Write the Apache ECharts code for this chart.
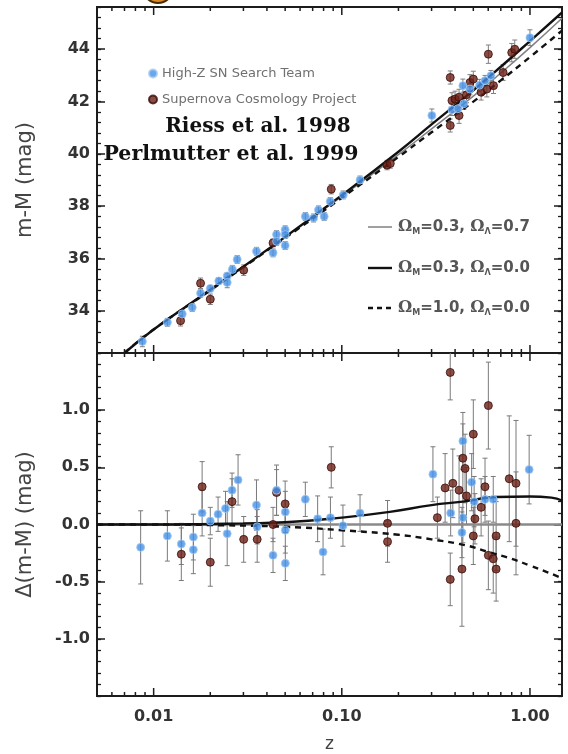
<!DOCTYPE html>
<html><head><meta charset="utf-8">
<script src="https://cdn.jsdelivr.net/npm/echarts@6/dist/echarts.min.js"></script>
<style>html,body{margin:0;padding:0;background:#fff;}#c{width:568px;height:754px;}</style>
</head><body><div id="c"></div>
<script>
// ---------- data ----------
// Top panel: distance modulus m-M vs z
const hzTopZ   = [0.00871,0.01183,0.01419,0.01604,0.01776,0.0200,0.0222,0.0246,0.0246,0.0262,0.0278,0.0352,0.0431,0.0450,0.0450,0.0500,0.0500,0.0500,0.0640,0.0708,0.0752,0.0806,0.0868,0.1018,0.125,0.301,0.385,0.414,0.445,0.440,0.480,0.540,0.577,0.620,1.000];
const hzTopMu  = [32.84,33.57,33.89,34.14,34.68,34.86,35.15,35.34,35.09,35.59,35.97,36.28,36.22,36.92,36.66,37.10,36.92,36.50,37.61,37.55,37.86,37.61,38.18,38.43,39.00,41.46,41.68,41.72,41.91,42.60,42.47,42.62,42.79,42.98,44.43];
const hzTopErr = [0.20,0.15,0.15,0.15,0.15,0.12,0.12,0.12,0.20,0.15,0.15,0.15,0.15,0.15,0.15,0.15,0.15,0.15,0.15,0.15,0.15,0.15,0.15,0.15,0.15,0.25,0.22,0.22,0.22,0.25,0.22,0.22,0.20,0.20,0.30];

const scpTopZ   = [0.0139,0.01776,0.0200,0.0301,0.0431,0.0879,0.174,0.181,0.377,0.377,0.385,0.400,0.420,0.420,0.460,0.480,0.500,0.550,0.590,0.640,0.601,0.800,0.830,0.720];
const scpTopMu  = [33.63,35.06,34.45,35.56,36.60,38.65,39.57,39.63,42.91,41.08,42.03,42.09,42.16,41.46,42.25,42.72,42.85,42.35,42.47,42.60,43.80,43.86,43.99,43.10];
const scpTopErr = [0.20,0.20,0.20,0.20,0.15,0.18,0.18,0.18,0.25,0.25,0.30,0.30,0.30,0.30,0.30,0.30,0.30,0.30,0.30,0.30,0.35,0.35,0.35,0.30];

// model curves in the top panel
const modelZ      = [0.0070,0.01,0.02,0.05,0.1,0.2,0.3,0.5,0.7,1.0,1.48];
const modelRefMu  = [32.40,33.30,34.80,36.81,38.37,39.97,40.95,42.20,43.08,44.05,45.17];
const modelThkMu  = [32.40,33.30,34.81,36.83,38.42,40.08,41.12,42.42,43.32,44.30,45.39];
const modelDshMu  = [32.40,33.30,34.79,36.79,38.32,39.88,40.82,41.99,42.80,43.69,44.70];

// Bottom panel: residuals Δ(m-M)
const hzResZ   = [0.00853,0.01183,0.01403,0.01626,0.01626,0.0181,0.0200,0.0220,0.0241,0.0246,0.0261,0.0281,0.0352,0.0355,0.0431,0.0450,0.0501,0.0501,0.0501,0.0640,0.0744,0.0795,0.0870,0.1014,0.125,0.305,0.379,0.440,0.440,0.435,0.490,0.505,0.577,0.638,0.990];
const hzResD   = [-0.20,-0.10,-0.17,-0.11,-0.22,0.10,0.03,0.09,0.14,-0.08,0.30,0.39,0.17,-0.02,-0.27,0.30,0.11,-0.05,-0.34,0.22,0.05,-0.24,0.06,-0.01,0.10,0.44,0.10,0.73,0.06,-0.07,0.37,0.20,0.22,0.22,0.48];
const hzResErr = [0.32,0.22,0.18,0.20,0.21,0.20,0.12,0.15,0.15,0.28,0.15,0.22,0.22,0.15,0.15,0.22,0.18,0.20,0.15,0.15,0.20,0.20,0.18,0.18,0.16,0.24,0.20,0.25,0.22,0.22,0.25,0.22,0.20,0.20,0.30];

const scpResZ   = [0.01403,0.0181,0.0200,0.0261,0.0301,0.0355,0.0431,0.0450,0.0500,0.0879,0.175,0.175,0.322,0.377,0.377,0.354,0.389,0.420,0.440,0.452,0.435,0.460,0.500,0.510,0.500,0.550,0.601,0.577,0.601,0.638,0.661,0.661,0.776,0.843,0.843];
const scpResD   = [-0.26,0.33,-0.33,0.20,-0.13,-0.13,0.00,0.28,0.18,0.50,0.01,-0.15,0.06,1.33,-0.48,0.32,0.36,0.30,0.58,0.49,-0.39,0.25,0.79,0.05,-0.10,0.15,1.04,0.33,-0.27,-0.30,-0.39,-0.10,0.40,0.36,0.01];
const scpResErr = [0.23,0.22,0.21,0.20,0.20,0.20,0.15,0.20,0.20,0.18,0.20,0.18,0.18,0.24,0.23,0.30,0.30,0.30,0.30,0.30,0.50,0.25,0.30,0.22,0.25,0.25,0.38,0.25,0.30,0.30,0.28,0.30,0.55,0.55,0.45];

// model curves in the bottom panel
const resRefZ   = [0.005,1.48];
const resRefD   = [0,0];
const resThkZ   = [0.005,0.01,0.02,0.03,0.05,0.1,0.18,0.3,0.44,0.66,1.0,1.3,1.48];
const resThkD   = [0,0,0.005,0.01,0.02,0.06,0.11,0.17,0.20,0.24,0.245,0.235,0.21];
const resDshZ   = [0.005,0.01,0.02,0.05,0.1,0.2,0.3,0.45,0.6,0.8,1.0,1.25,1.48];
const resDshD   = [0,0,-0.005,-0.02,-0.05,-0.09,-0.13,-0.18,-0.24,-0.30,-0.36,-0.42,-0.47];

// axis ticks
const xMajorTicks = [0.01,0.1,1];
const xMinorTicks = [0.006,0.007,0.008,0.009,0.02,0.03,0.04,0.05,0.06,0.07,0.08,0.09,0.2,0.3,0.4,0.5,0.6,0.7,0.8,0.9];

const nameHZ  = 'High-Z SN Search Team';
const nameSCP = 'Supernova Cosmology Project';
const modelLabels = [
  '{o|Ω}{s|M}{t|=0.3, }{o|Ω}{s|Λ}{t|=0.7}',
  '{o|Ω}{s|M}{t|=0.3, }{o|Ω}{s|Λ}{t|=0.0}',
  '{o|Ω}{s|M}{t|=1.0, }{o|Ω}{s|Λ}{t|=0.0}'
];

// ---------- layout ----------
const X_MIN = 0.005, X_MAX = 1.48;
const TOP_MIN = 32.4, TOP_MAX = 45.6;
const BOT_MIN = -1.5, BOT_MAX = 1.5;
const INK = '#1c1c1c';
const BLUE = '#4390e6', RED = '#6b2017';
const REF_STYLE = { color: '#808080', width: 1.5 };
const THK_STYLE = { color: '#111', width: 2.4 };
const DSH_STYLE = { color: '#111', width: 2.4, type: [6, 5] };

const zip = (a, b, c) => a.map((v, i) => c ? [v, b[i], c[i]] : [v, b[i]]);

function errSeries(xi, yi, data, color) {
  return {
    type: 'custom', xAxisIndex: xi, yAxisIndex: yi, silent: true, z: 2, clip: true,
    encode: { x: 0, y: 1 },
    data: data,
    renderItem: function (params, api) {
      const x = api.value(0), y = api.value(1), e = api.value(2);
      const hi = api.coord([x, y + e]), lo = api.coord([x, y - e]);
      const w = 2.5;
      const st = { stroke: color, lineWidth: 1 };
      return { type: 'group', children: [
        { type: 'line', shape: { x1: hi[0], y1: hi[1], x2: lo[0], y2: lo[1] }, style: st },
        { type: 'line', shape: { x1: hi[0] - w, y1: hi[1], x2: hi[0] + w, y2: hi[1] }, style: st },
        { type: 'line', shape: { x1: lo[0] - w, y1: lo[1], x2: lo[0] + w, y2: lo[1] }, style: st }
      ]};
    }
  };
}

function xTickSeries(xi, yi, yMin, yMax) {
  const data = xMajorTicks.map(v => [v, yMin, 1]).concat(xMinorTicks.map(v => [v, yMin, 0]));
  return {
    type: 'custom', xAxisIndex: xi, yAxisIndex: yi, silent: true, z: 6, clip: false,
    encode: { x: 0, y: 1 },
    data: data,
    renderItem: function (params, api) {
      const x = api.value(0), major = api.value(2);
      const b = api.coord([x, yMin]), t = api.coord([x, yMax]);
      const L = major ? 8 : 4;
      const st = { stroke: INK, lineWidth: 1.5 };
      return { type: 'group', children: [
        { type: 'line', shape: { x1: b[0], y1: b[1], x2: b[0], y2: b[1] - L }, style: st },
        { type: 'line', shape: { x1: t[0], y1: t[1], x2: t[0], y2: t[1] + L }, style: st }
      ]};
    }
  };
}

function xAxisCfg(gi, showLabels) {
  return {
    gridIndex: gi, type: 'log', logBase: 10, min: X_MIN, max: X_MAX,
    axisLine: { show: false, onZero: false }, axisTick: { show: false }, splitLine: { show: false },
    axisLabel: {
      show: showLabels, showMinLabel: false, showMaxLabel: false, margin: 13,
      fontFamily: 'DejaVu Sans', fontWeight: 'bold', fontSize: 16, color: '#333',
      formatter: v => Number(v).toFixed(2)
    },
    name: showLabels ? 'z' : '', nameLocation: 'middle', nameGap: 40,
    nameTextStyle: { fontFamily: 'DejaVu Sans', fontSize: 17, color: '#444' }
  };
}

function yMajor(gi, pos, min, max, step, split, fmt, name) {
  return {
    gridIndex: gi, type: 'value', position: pos, min: min, max: max,
    minInterval: step, maxInterval: step, splitNumber: split,
    axisLine: { show: false, onZero: false },
    axisTick: { show: true, inside: true, length: 8, lineStyle: { color: INK, width: 1.5 } },
    splitLine: { show: false },
    axisLabel: {
      show: pos === 'left', showMinLabel: false, showMaxLabel: false, margin: 7,
      fontFamily: 'DejaVu Sans', fontWeight: 'bold', fontSize: 16, color: '#333',
      formatter: fmt
    },
    name: pos === 'left' ? name : '', nameLocation: 'middle', nameGap: 61,
    nameTextStyle: { fontFamily: 'DejaVu Sans', fontSize: 21, color: '#444' }
  };
}
function yMinor(gi, pos, min, max, step) {
  return {
    gridIndex: gi, type: 'value', position: pos, min: min, max: max, interval: step,
    axisLine: { show: false, onZero: false },
    axisTick: { show: true, inside: true, length: 4, lineStyle: { color: INK, width: 1.3 } },
    splitLine: { show: false }, axisLabel: { show: false }
  };
}

const topFmt = v => {
  const r = Math.round(v);
  return (Math.abs(v - r) < 1e-6 && r % 2 === 0) ? String(r) : '';
};
const botFmt = v => {
  const r = Math.round(v * 2) / 2;
  if (Math.abs(v - r) > 1e-6) return '';
  return r.toFixed(1);
};

const richModel = {
  o: { fontFamily: 'DejaVu Serif', fontWeight: 'bold', fontSize: 16, fill: '#555', lineHeight: 18 },
  t: { fontFamily: 'DejaVu Sans', fontWeight: 'bold', fontSize: 15, fill: '#555', lineHeight: 18 },
  s: { fontFamily: 'DejaVu Sans', fontWeight: 'bold', fontSize: 8, fill: '#555', lineHeight: 8, verticalAlign: 'bottom' }
};
const legendRowsY = [227, 268, 308];
const legendStyles = [REF_STYLE, THK_STYLE, DSH_STYLE];
const modelLegendGraphics = [];
legendRowsY.forEach((y, i) => {
  const ls = legendStyles[i];
  modelLegendGraphics.push({ type: 'line', z: 100, shape: { x1: 368, y1: y, x2: 392, y2: y },
    style: { stroke: ls.color, lineWidth: ls.width, lineDash: ls.type ? [5, 4] : null } });
  modelLegendGraphics.push({ type: 'text', z: 100, x: 398, y: y,
    style: { text: modelLabels[i], rich: richModel, fill: '#555', verticalAlign: 'middle', textVerticalAlign: 'middle' } });
});

const chart = echarts.init(document.getElementById('c'), null, { renderer: 'canvas' });
chart.setOption({
  animation: false,
  backgroundColor: '#fff',
  grid: [
    { left: 97, right: 6, top: 7, height: 346, show: true, borderColor: INK, borderWidth: 2, backgroundColor: 'transparent' },
    { left: 97, right: 6, top: 353, height: 344, show: true, borderColor: INK, borderWidth: 2, backgroundColor: 'transparent' }
  ],
  xAxis: [ xAxisCfg(0, false), xAxisCfg(1, true) ],
  yAxis: [
    yMajor(0, 'left', TOP_MIN, TOP_MAX, 2, 7, topFmt, 'm-M (mag)'),
    yMinor(0, 'left', TOP_MIN, TOP_MAX, 0.4),
    yMajor(0, 'right', TOP_MIN, TOP_MAX, 2, 7, topFmt, ''),
    yMinor(0, 'right', TOP_MIN, TOP_MAX, 0.4),
    yMajor(1, 'left', BOT_MIN, BOT_MAX, 0.5, 6, botFmt, 'Δ(m-M) (mag)'),
    yMinor(1, 'left', BOT_MIN, BOT_MAX, 0.1),
    yMajor(1, 'right', BOT_MIN, BOT_MAX, 0.5, 6, botFmt, ''),
    yMinor(1, 'right', BOT_MIN, BOT_MAX, 0.1)
  ],
  legend: [
    {
      data: [nameHZ, nameSCP], orient: 'vertical', left: 143, top: 62, selectedMode: false,
      icon: 'circle', itemWidth: 8, itemHeight: 8, itemGap: 13,
      textStyle: { fontFamily: 'DejaVu Sans', fontSize: 13, color: '#707070' }
    }
  ],
  graphic: [
    { type: 'circle', shape: { cx: 158, cy: -12, r: 15 }, style: { fill: '#d58b2a', stroke: '#4a2800', lineWidth: 2 }, z: 100 },
    { type: 'text', x: 258, y: 127, z: 100,
      style: { text: 'Riess et al. 1998', font: 'bold 20px "DejaVu Serif"', fill: '#111', textAlign: 'center', textVerticalAlign: 'middle' } },
    { type: 'text', x: 231, y: 155, z: 100,
      style: { text: 'Perlmutter et al. 1999', font: 'bold 20.5px "DejaVu Serif"', fill: '#111', textAlign: 'center', textVerticalAlign: 'middle' } }
  ].concat(modelLegendGraphics),
  series: [
    // ticks on x edges
    xTickSeries(0, 0, TOP_MIN, TOP_MAX),
    xTickSeries(1, 4, BOT_MIN, BOT_MAX),
    // top panel model curves
    { type: 'line', xAxisIndex: 0, yAxisIndex: 0, data: zip(modelZ, modelRefMu), symbol: 'none', smooth: true, clip: true, z: 3, lineStyle: REF_STYLE },
    { type: 'line', xAxisIndex: 0, yAxisIndex: 0, data: zip(modelZ, modelThkMu), symbol: 'none', smooth: true, clip: true, z: 3, lineStyle: THK_STYLE },
    { type: 'line', xAxisIndex: 0, yAxisIndex: 0, data: zip(modelZ, modelDshMu), symbol: 'none', smooth: true, clip: true, z: 3, lineStyle: DSH_STYLE },
    // top panel error bars and points
    errSeries(0, 0, zip(hzTopZ, hzTopMu, hzTopErr), '#808080'),
    errSeries(0, 0, zip(scpTopZ, scpTopMu, scpTopErr), '#808080'),
    { type: 'scatter', name: nameSCP, xAxisIndex: 0, yAxisIndex: 0, data: zip(scpTopZ, scpTopMu), symbolSize: 8, z: 4,
      itemStyle: { color: RED, borderColor: '#3a0d07', borderWidth: 1 } },
    { type: 'scatter', name: nameHZ, xAxisIndex: 0, yAxisIndex: 0, data: zip(hzTopZ, hzTopMu), symbolSize: 8, z: 4,
      itemStyle: { color: BLUE, borderColor: '#a3cbf5', borderWidth: 1 } },
    // bottom panel model curves
    { type: 'line', xAxisIndex: 1, yAxisIndex: 4, data: zip(resRefZ, resRefD), symbol: 'none', clip: true, z: 3,
      lineStyle: { color: '#8a8a8a', width: 2.6 } },
    { type: 'line', xAxisIndex: 1, yAxisIndex: 4, data: zip(resThkZ, resThkD), symbol: 'none', smooth: true, clip: true, z: 3, lineStyle: THK_STYLE },
    { type: 'line', xAxisIndex: 1, yAxisIndex: 4, data: zip(resDshZ, resDshD), symbol: 'none', smooth: true, clip: true, z: 3, lineStyle: DSH_STYLE },
    // bottom panel error bars and points
    errSeries(1, 4, zip(hzResZ, hzResD, hzResErr), '#7a7a7a'),
    errSeries(1, 4, zip(scpResZ, scpResD, scpResErr), '#7a7a7a'),
    { type: 'scatter', name: nameSCP, xAxisIndex: 1, yAxisIndex: 4, data: zip(scpResZ, scpResD), symbolSize: 8, z: 4,
      itemStyle: { color: RED, borderColor: '#3a0d07', borderWidth: 1 } },
    { type: 'scatter', name: nameHZ, xAxisIndex: 1, yAxisIndex: 4, data: zip(hzResZ, hzResD), symbolSize: 8, z: 4,
      itemStyle: { color: BLUE, borderColor: '#a3cbf5', borderWidth: 1 } }
  ]
});
</script>
</body></html>
